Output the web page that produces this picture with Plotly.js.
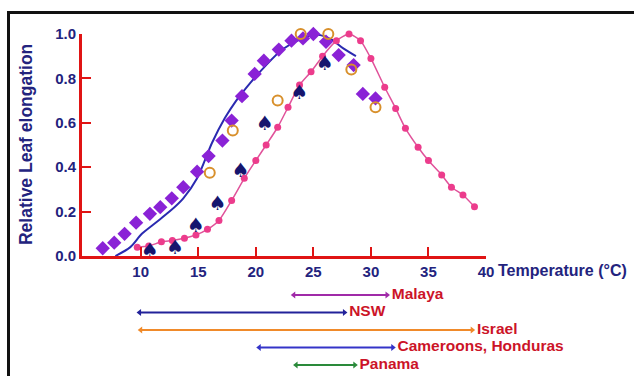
<!DOCTYPE html>
<html>
<head>
<meta charset="utf-8">
<script src="https://cdn.plot.ly/plotly-3.0.1.min.js"></script>
<style>
html,body{margin:0;padding:0;background:#fff;}
#wrap{position:relative;width:634px;height:376px;overflow:hidden;}
#chart{width:634px;height:376px;}
#frame{position:absolute;left:7px;top:11px;width:640px;height:380px;border-top:3px solid #111;border-left:3px solid #111;pointer-events:none;}
</style>
</head>
<body>
<div id="wrap"><div id="chart"></div><div id="frame"></div></div>
<script>
// ---- data ----
const diamondT = [6.7, 7.7, 8.6, 9.6, 10.8, 11.7, 12.7, 13.7, 14.9, 15.9, 17.1, 17.9, 18.8, 19.9, 20.7, 22.0, 23.1, 24.1, 25.0, 26.1, 27.2, 28.5, 29.3, 30.4];
const diamondV = [0.035, 0.06, 0.10, 0.15, 0.19, 0.22, 0.26, 0.31, 0.38, 0.45, 0.52, 0.61, 0.72, 0.82, 0.88, 0.93, 0.97, 0.98, 1.0, 0.965, 0.905, 0.86, 0.73, 0.71];

const blueT = [7.8, 9.1, 10.1, 11.3, 12.5, 13.7, 14.9, 16.2, 17.3, 18.3, 19.2, 20.9, 22.3, 23.8, 25.0, 25.6, 26.6, 27.6, 28.7];
const blueV = [0.0, 0.04, 0.10, 0.15, 0.20, 0.26, 0.35, 0.51, 0.62, 0.70, 0.76, 0.86, 0.93, 0.975, 0.995, 0.995, 0.975, 0.935, 0.90];

const pinkT = [9.7, 10.7, 11.8, 12.75, 13.8, 14.8, 15.8, 16.8, 17.9, 19.0, 20.0, 20.9, 21.9, 22.8, 23.8, 24.8, 25.8, 27.0, 28.1, 29.1, 30.0, 31.2, 32.15, 33.0, 34.1, 35.0, 36.15, 37.0, 38.0, 39.0];
const pinkV = [0.04, 0.045, 0.064, 0.07, 0.08, 0.095, 0.12, 0.16, 0.25, 0.35, 0.43, 0.50, 0.58, 0.67, 0.77, 0.83, 0.90, 0.97, 1.0, 0.97, 0.89, 0.76, 0.665, 0.575, 0.49, 0.43, 0.365, 0.31, 0.275, 0.222];

const orangeT = [16.0, 18.0, 21.9, 23.9, 26.3, 28.3, 30.4];
const orangeV = [0.375, 0.565, 0.70, 1.0, 1.0, 0.84, 0.67];

const spadeT = [10.8, 13.0, 14.8, 16.7, 18.7, 20.8, 23.8, 26.0];
const spadeV = [0.02, 0.03, 0.13, 0.23, 0.38, 0.59, 0.73, 0.86];

const regionNames = ['Malaya', 'NSW', 'Israel', 'Cameroons, Honduras', 'Panama'];
const regionLow = [23.3, 9.9, 10.0, 20.3, 23.5];
const regionHigh = [31.4, 27.7, 38.8, 31.9, 28.6];

const xTicks = [10, 15, 20, 25, 30, 35, 40];
const yTicks = [0, 0.2, 0.4, 0.6, 0.8, 1.0];

// ---- styles ----
const regionColors = ['#a02aa8', '#22229a', '#f08a2a', '#3434c8', '#2a8a3a'];
const FONT = 'Liberation Sans, Arial, sans-serif';
const NAVY = '#23237e';
const RED = '#e01414';
const LABELRED = '#cc1428';

const traces = [];
traces.push({x: blueT, y: blueV, mode: 'lines', line: {color: '#2a2ab0', width: 2, shape: 'spline', smoothing: 0.8}, cliponaxis: false});
traces.push({x: pinkT, y: pinkV, mode: 'lines+markers', line: {color: '#e0529a', width: 1.5, shape: 'spline', smoothing: 0.6},
  marker: {color: '#ec3c8c', size: 7}, cliponaxis: false});
traces.push({x: diamondT, y: diamondV, mode: 'markers', marker: {symbol: 'diamond', color: '#8a22d6', size: 11}, cliponaxis: false});
traces.push({x: orangeT, y: orangeV, mode: 'markers', marker: {symbol: 'circle-open', color: '#d8902c', size: 10, line: {width: 2}}, cliponaxis: false});
traces.push({x: spadeT, y: spadeV, mode: 'text', text: spadeT.map(() => '♠'), textposition: 'middle center',
  textfont: {family: 'DejaVu Sans', size: 20, color: '#15156e'}, cliponaxis: false});

regionNames.forEach((name, i) => {
  traces.push({
    x: [regionLow[i], regionHigh[i]], y: [i, i], xaxis: 'x', yaxis: 'y2',
    mode: 'lines+markers+text',
    line: {color: regionColors[i], width: 2},
    marker: {symbol: ['triangle-left', 'triangle-right'], size: 6, color: regionColors[i]},
    text: ['', name], textposition: 'middle right',
    textfont: {family: FONT, size: 15.5, color: LABELRED, weight: 'bold'},
    cliponaxis: false
  });
});

const layout = {
  width: 634, height: 376,
  margin: {l: 82, r: 148, t: 34, b: 5},
  paper_bgcolor: '#fff', plot_bgcolor: 'rgba(0,0,0,0)',
  showlegend: false,
  font: {family: FONT},
  xaxis: {
    range: [4.9, 40], anchor: 'y', tickvals: xTicks, ticks: 'inside', ticklen: 9, tickwidth: 2, tickcolor: RED,
    showline: true, linecolor: RED, linewidth: 3, showgrid: false, zeroline: false,
    tickfont: {family: FONT, size: 15, color: NAVY, weight: 'bold'}
  },
  yaxis: {
    domain: [0.3412, 1], range: [0, 1], tickvals: yTicks, tickformat: '.1f', ticks: 'inside', ticklen: 9, tickwidth: 2, tickcolor: RED,
    showline: true, linecolor: RED, linewidth: 3, showgrid: false, zeroline: false,
    tickfont: {family: FONT, size: 15, color: NAVY, weight: 'bold'}
  },
  yaxis2: {domain: [0, 0.3], range: [4.343, -1.434], visible: false, showgrid: false, zeroline: false},
  annotations: [
    {text: 'Temperature (°C)', xref: 'paper', yref: 'paper', x: 1.0248, y: 0.2997, xanchor: 'left', yanchor: 'middle',
     showarrow: false, font: {family: FONT, size: 16, color: NAVY, weight: 'bold'}},
    {text: 'Relative Leaf elongation', xref: 'paper', yref: 'paper', x: -0.1386, y: 0.6706, xanchor: 'center', yanchor: 'middle',
     textangle: -90, showarrow: false, font: {family: FONT, size: 17.5, color: NAVY, weight: 'bold'}}
  ]
};

Plotly.newPlot('chart', traces, layout, {displayModeBar: false, staticPlot: true});
</script>
</body>
</html>
